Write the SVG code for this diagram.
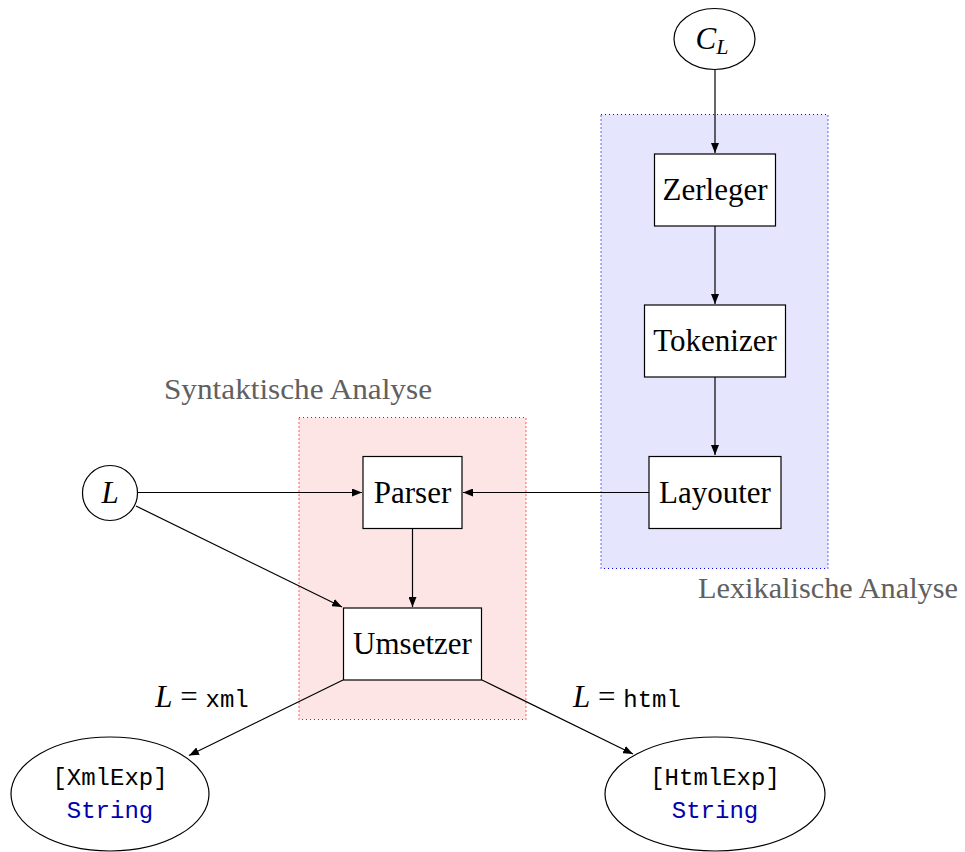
<svg xmlns="http://www.w3.org/2000/svg" width="965" height="852" viewBox="0 0 965 852">
<defs>
<marker id="ah" viewBox="0 0 10 8" refX="10" refY="4" markerWidth="10" markerHeight="8" markerUnits="userSpaceOnUse" orient="auto">
<path d="M0,0 L10,4 L0,8 Z" fill="#000"/>
</marker>
</defs>
<style>
.box{fill:#fff;stroke:#000;stroke-width:1.2}
.lbl{font-family:'Liberation Serif',serif;font-size:31px;fill:#000;text-anchor:middle}
.it{font-style:italic}
.mono{font-family:'Liberation Mono',monospace;font-size:24px;text-anchor:middle}
.gray{font-family:'Liberation Serif',serif;font-size:29px;fill:#606060}
.e{stroke:#000;stroke-width:1.2;fill:none;marker-end:url(#ah)}
</style>
<rect width="965" height="852" fill="#fff"/>
<g id="regions">
<rect x="601" y="114.5" width="227" height="454" fill="#e5e5fd" stroke="#0000ff" stroke-width="1.2" stroke-dasharray="1 3"/>
<rect x="299" y="417.5" width="227" height="302" fill="#fde5e5" stroke="#ff0000" stroke-width="1.2" stroke-dasharray="1 3"/>
<text class="gray" x="164" y="399" textLength="268" lengthAdjust="spacingAndGlyphs">Syntaktische Analyse</text>
<text class="gray" x="698" y="598" textLength="260" lengthAdjust="spacingAndGlyphs">Lexikalische Analyse</text>
</g>
<g id="connectors">
<line class="e" x1="715" y1="70" x2="715" y2="153"/>
<line class="e" x1="715" y1="226" x2="715" y2="304"/>
<line class="e" x1="715" y1="377" x2="715" y2="455"/>
<line class="e" x1="649" y1="492.5" x2="463" y2="492.5"/>
<line class="e" x1="137.5" y1="492.5" x2="362" y2="492.5"/>
<line class="e" x1="412.5" y1="529" x2="412.5" y2="607"/>
<line class="e" x1="136" y1="506" x2="342" y2="607"/>
<line class="e" x1="343" y1="680" x2="189" y2="755.5"/>
<line class="e" x1="482" y1="680" x2="633" y2="754"/>
<text class="lbl" x="202" y="707"><tspan class="it">L</tspan> = <tspan style="font-family:'Liberation Mono',monospace;font-size:24px">xml</tspan></text>
<text class="lbl" x="627" y="707"><tspan class="it">L</tspan> = <tspan style="font-family:'Liberation Mono',monospace;font-size:24px">html</tspan></text>
</g>
<g id="CL">
<ellipse cx="714.5" cy="39" rx="40.5" ry="30.5" fill="#fff" stroke="#000" stroke-width="1.2"/>
<text class="lbl it" x="712" y="49">C<tspan font-size="22" dy="5">L</tspan></text>
</g>
<g id="Zerleger">
<rect class="box" x="654.5" y="154" width="121" height="72"/>
<text class="lbl" x="715" y="200">Zerleger</text>
</g>
<g id="Tokenizer">
<rect class="box" x="644.5" y="305" width="141" height="72"/>
<text class="lbl" x="715" y="351">Tokenizer</text>
</g>
<g id="Layouter">
<rect class="box" x="649" y="456.5" width="132" height="72"/>
<text class="lbl" x="715" y="503">Layouter</text>
</g>
<g id="Parser">
<rect class="box" x="363" y="456.5" width="99" height="72"/>
<text class="lbl" x="412.5" y="503">Parser</text>
</g>
<g id="Umsetzer">
<rect class="box" x="343.5" y="608" width="138" height="72"/>
<text class="lbl" x="412.5" y="654">Umsetzer</text>
</g>
<g id="L">
<circle cx="110" cy="493" r="27.5" fill="#fff" stroke="#000" stroke-width="1.2"/>
<text class="lbl it" x="110" y="503">L</text>
</g>
<g id="XmlExp">
<ellipse cx="110" cy="794" rx="99" ry="57" fill="#fff" stroke="#000" stroke-width="1.2"/>
<text class="mono" x="110" y="785" fill="#000">[XmlExp]</text>
<text class="mono" x="110" y="818" fill="#0000b0">String</text>
</g>
<g id="HtmlExp">
<ellipse cx="715" cy="794" rx="110" ry="57" fill="#fff" stroke="#000" stroke-width="1.2"/>
<text class="mono" x="715" y="785" fill="#000">[HtmlExp]</text>
<text class="mono" x="715" y="818" fill="#0000b0">String</text>
</g>
</svg>
